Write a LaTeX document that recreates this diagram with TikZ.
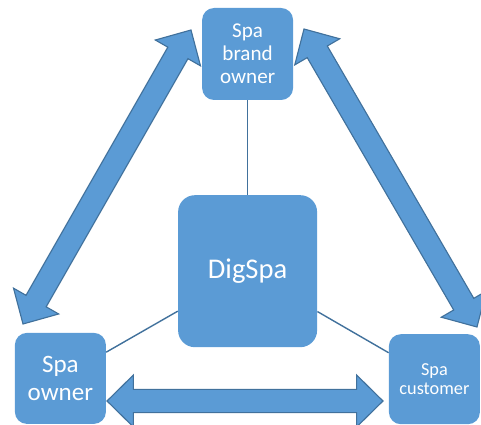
\documentclass[tikz,border=0pt]{standalone}
\usepackage{fontspec}
\setmainfont{Carlito}
\usetikzlibrary{calc}
\definecolor{boxblue}{RGB}{91,155,213}
\definecolor{edgeblue}{RGB}{65,113,156}

\begin{document}
\begin{tikzpicture}[
    party/.style={rectangle, rounded corners=0.3cm, fill=boxblue, text=white, align=center, minimum width=2.275cm, minimum height=2.275cm, inner sep=0pt},
    hub/.style={rectangle, rounded corners=0.42cm, fill=boxblue, text=white, minimum width=3.475cm, minimum height=3.8cm, font=\fontsize{20.3}{24}\selectfont},
    link/.style={draw=edgeblue, line width=1pt},
    twoway/.style={fill=boxblue, draw=edgeblue, line width=0.8pt, line join=miter,
        to path={-- ($(\tikztostart)!0.66cm!(\tikztotarget)!0.65cm!90:(\tikztotarget)$)
                 -- ($(\tikztostart)!0.66cm!(\tikztotarget)!0.29cm!90:(\tikztotarget)$)
                 -- ($(\tikztotarget)!0.66cm!(\tikztostart)!0.29cm!-90:(\tikztostart)$)
                 -- ($(\tikztotarget)!0.66cm!(\tikztostart)!0.65cm!-90:(\tikztostart)$)
                 -- (\tikztotarget)
                 -- ($(\tikztotarget)!0.66cm!(\tikztostart)!0.65cm!90:(\tikztostart)$)
                 -- ($(\tikztotarget)!0.66cm!(\tikztostart)!0.29cm!90:(\tikztostart)$)
                 -- ($(\tikztostart)!0.66cm!(\tikztotarget)!0.29cm!-90:(\tikztotarget)$)
                 -- ($(\tikztostart)!0.66cm!(\tikztotarget)!0.65cm!-90:(\tikztotarget)$)
                 -- cycle}}
]
\useasboundingbox (0,0) rectangle (12.025,-10.625);

% the three parties and the platform
\node[party, minimum height=2.3cm, font=\fontsize{15}{16.5}\selectfont] (brand) at (6.19,-1.35) {Spa\\brand\\owner};
\node[party, font=\fontsize{17.8}{20}\selectfont] (owner) at (1.51,-9.46) {Spa\\owner};
\node[party, minimum height=2.25cm, font=\fontsize{13}{13.5}\selectfont] (customer) at (10.86,-9.48) {Spa\\customer};
\node[hub] (digspa) at (6.19,-6.78) {DigSpa};

% thin links to the platform
\draw[link] (brand) -- (digspa);
\draw[link] (digspa) -- (owner);
\draw[link] (digspa) -- (customer);

% arrow ends
\coordinate (lefttop) at (4.775,-0.75);
\coordinate (leftbot) at (0.575,-8.1);
\coordinate (righttop) at (7.6,-0.725);
\coordinate (rightbot) at (11.925,-8.175);
\coordinate (botleft) at (2.675,-10.025);
\coordinate (botright) at (9.575,-10.025);

% two-way block arrows
\draw[twoway] (leftbot) to (lefttop);
\draw[twoway] (righttop) to (rightbot);
\draw[twoway] (botleft) to (botright);

\end{tikzpicture}
\end{document}
